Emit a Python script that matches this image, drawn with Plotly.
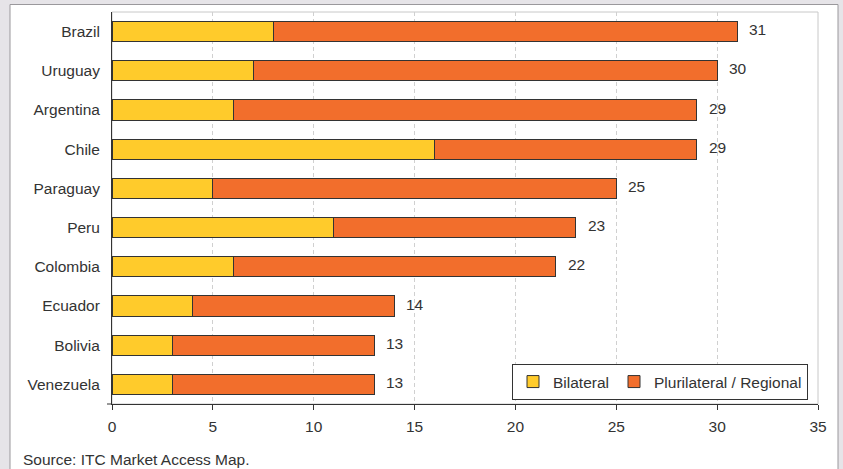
import plotly.graph_objects as go

countries = ["Brazil", "Uruguay", "Argentina", "Chile", "Paraguay", "Peru",
             "Colombia", "Ecuador", "Bolivia", "Venezuela"]
bilateral = [8, 7, 6, 16, 5, 11, 6, 4, 3, 3]
plurilateral = [23, 23, 23, 13, 20, 12, 16, 10, 10, 10]
totals = [b + p for b, p in zip(bilateral, plurilateral)]
x_ticks = [0, 5, 10, 15, 20, 25, 30, 35]

YELLOW = "#FFCB2B"
ORANGE = "#F26E2C"
TXT = "#333333"
FONT = "Liberation Sans, Arial, sans-serif"
FS = 15.5

fig = go.Figure()
fig.add_trace(go.Bar(y=countries, x=bilateral, orientation="h", name="Bilateral",
                     marker=dict(color=YELLOW, line=dict(color="#333333", width=1)),
                     width=0.52))
fig.add_trace(go.Bar(y=countries, x=plurilateral, orientation="h", name="Plurilateral / Regional",
                     marker=dict(color=ORANGE, line=dict(color="#333333", width=1)),
                     width=0.52))

for c, t in zip(countries, totals):
    fig.add_annotation(x=t, y=c, text=str(t), showarrow=False, xanchor="left",
                       xshift=10, yshift=2, font=dict(size=FS, color=TXT, family=FONT))

L, R, T, B = 112, 25, 12, 65
W, H = 843, 469
pw, ph = W - L - R, H - T - B

def px_x(p):
    return (p - L) / pw

def px_y(p):
    return (H - B - p) / ph

# white panel
fig.add_shape(type="rect", xref="paper", yref="paper",
              x0=px_x(10), x1=px_x(838), y0=px_y(475), y1=px_y(4.5),
              fillcolor="white", line=dict(color="#9a989c", width=1), layer="below")
# plot area light border
fig.add_shape(type="rect", xref="paper", yref="paper", x0=0, x1=1, y0=0, y1=1,
              fillcolor="rgba(0,0,0,0)", line=dict(color="#c8c8c8", width=1), layer="below")
# small extension of the category axis baseline to the left
fig.add_shape(type="line", xref="paper", yref="paper", x0=px_x(107), x1=0, y0=0, y1=0,
              line=dict(color="#333333", width=1))

fig.add_annotation(xref="paper", yref="paper", x=px_x(21), y=px_y(459), text="Source: ITC Market Access Map.",
                   showarrow=False, xanchor="left", yanchor="middle",
                   font=dict(size=FS, color=TXT, family=FONT))

fig.update_layout(
    width=W, height=H,
    margin=dict(l=L, r=R, t=T, b=B),
    barmode="stack",
    paper_bgcolor="#e6e4e8",
    plot_bgcolor="white",
    font=dict(family=FONT, size=FS, color=TXT),
    legend=dict(orientation="h", x=px_x(808), xanchor="right", y=px_y(400), yanchor="bottom",
                bordercolor="#333333", borderwidth=1, bgcolor="white",
                font=dict(size=FS, color=TXT), traceorder="normal",
                itemwidth=30, tracegroupgap=0),
    xaxis=dict(range=[0, 35], tickvals=x_ticks, showgrid=True, gridcolor="#d0d0d0",
               griddash="4px,3px", gridwidth=1, showline=True, linecolor="#333333", linewidth=1,
               ticks="outside", ticklen=5, tickcolor="#333333", zeroline=False,
               ticklabelstandoff=3),
    yaxis=dict(categoryorder="array", categoryarray=countries[::-1], showline=True,
               linecolor="#333333", linewidth=1, ticks="", showgrid=False,
               ticklabelstandoff=8, range=[-0.5, 9.5]),
)

fig.write_html("out.html")
